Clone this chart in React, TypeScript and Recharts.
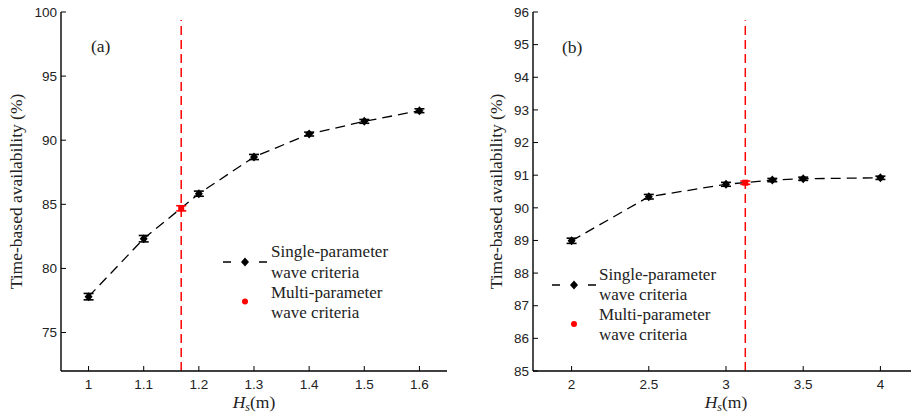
import React from "react";
import {
  ComposedChart,
  Line,
  Scatter,
  XAxis,
  YAxis,
  ErrorBar,
  ReferenceLine,
} from "recharts";

// ---- data: panel (a) ----
const hsA = [1, 1.1, 1.2, 1.3, 1.4, 1.5, 1.6];
const availA = [77.8, 82.32, 85.83, 88.69, 90.48, 91.47, 92.3];
const errA = [0.25, 0.25, 0.2, 0.2, 0.15, 0.15, 0.15];
const multiA = { x: 1.168, y: 84.69, err: 0.2 };
const xTicksA = [1, 1.1, 1.2, 1.3, 1.4, 1.5, 1.6];
const yTicksA = [75, 80, 85, 90, 95, 100];
const xDomainA: [number, number] = [0.95, 1.65];
const yDomainA: [number, number] = [72, 100];
const refTopA = 99.38;

// ---- data: panel (b) ----
const hsB = [2, 2.5, 3, 3.3, 3.5, 4];
const availB = [88.99, 90.34, 90.72, 90.85, 90.89, 90.92];
const errB = [0.08, 0.07, 0.06, 0.05, 0.05, 0.05];
const multiB = { x: 3.125, y: 90.77, err: 0.05 };
const xTicksB = [2, 2.5, 3, 3.5, 4];
const yTicksB = [85, 86, 87, 88, 89, 90, 91, 92, 93, 94, 95, 96];
const xDomainB: [number, number] = [1.75, 4.25];
const yDomainB: [number, number] = [85, 96];
const refTopB = 95.75;

const SERIF = "Liberation Serif";
const SANS = "Liberation Sans";
const TXT = "#222";
const serifStyle = { fontFamily: SERIF } as React.CSSProperties;
const sansStyle = { fontFamily: SANS } as React.CSSProperties;

const Diamond = (props: any) => {
  const { cx, cy, index } = props;
  if (cx == null || cy == null) return <g key={index} />;
  return (
    <path
      key={index}
      d={`M${cx},${cy - 4.5} L${cx + 4},${cy} L${cx},${cy + 4.5} L${cx - 4},${cy} Z`}
      fill="#000"
    />
  );
};

const RedSquare = (props: any) => {
  const { cx, cy } = props;
  return <rect x={cx - 3} y={cy - 3} width={6} height={6} fill="#ff0000" />;
};

const BottomTick = (props: any) => {
  const { x, y, payload } = props;
  return (
    <g>
      <line x1={x} x2={x} y1={y} y2={y - 5} stroke="#000" strokeWidth={1} />
      <text x={x} y={y + 18} textAnchor="middle" style={sansStyle} fontSize={13.5} fill={TXT}>
        {String(payload.value)}
      </text>
    </g>
  );
};
const TopTick = (props: any) => {
  const { x, y } = props;
  return <line x1={x} x2={x} y1={y} y2={y + 5} stroke="#000" strokeWidth={1} />;
};
const LeftTick = (props: any) => {
  const { x, y, payload } = props;
  return (
    <g>
      <line x1={x} x2={x + 5} y1={y} y2={y} stroke="#000" strokeWidth={1} />
      <text x={x - 4} y={y} dy="0.35em" textAnchor="end" style={sansStyle} fontSize={13.5} fill={TXT}>
        {String(payload.value)}
      </text>
    </g>
  );
};
const RightTick = (props: any) => {
  const { x, y } = props;
  return <line x1={x} x2={x - 5} y1={y} y2={y} stroke="#000" strokeWidth={1} />;
};

const xLabel = (props: any) => {
  const vb = props.viewBox;
  const cx = vb.x + vb.width / 2;
  const y = vb.y + 37;
  return (
    <text x={cx} y={y} textAnchor="middle" style={serifStyle} fontSize={17.5} fill={TXT}>
      <tspan fontStyle="italic">H</tspan>
      <tspan fontStyle="italic" fontSize={12} dy={3}>s</tspan>
      <tspan dy={-3}>(m)</tspan>
    </text>
  );
};

const makeYLabel = (dist: number) => (props: any) => {
  const vb = props.viewBox;
  const x = vb.x + vb.width - dist;
  const y = vb.y + vb.height / 2;
  return (
    <text
      x={x}
      y={y}
      transform={`rotate(-90 ${x} ${y})`}
      textAnchor="middle"
      dy="0.3em"
      style={serifStyle}
      fontSize={17.5}
      fill={TXT}
    >
      Time-based availability (%)
    </text>
  );
};

function Panel(props: {
  hs: number[];
  avail: number[];
  err: number[];
  multi: { x: number; y: number; err: number };
  xTicks: number[];
  yTicks: number[];
  xDomain: [number, number];
  yDomain: [number, number];
  refTop: number;
  width: number;
  yAxisWidth: number;
  labelDist: number;
}) {
  const data = props.hs.map((x, i) => ({ x, y: props.avail[i], err: props.err[i] }));
  const multiData = [props.multi];
  return (
    <ComposedChart
      width={props.width}
      height={415}
      margin={{ top: 12, right: 13, bottom: 0, left: 0 }}
      data={data}
    >
      <XAxis
        dataKey="x"
        type="number"
        domain={props.xDomain}
        ticks={props.xTicks}
        allowDataOverflow
        height={44}
        tickSize={0}
        tickMargin={0}
        tickLine={false}
        tick={<BottomTick />}
        axisLine={{ stroke: "#000", strokeWidth: 1.4 }}
        label={{ content: xLabel }}
        interval={0}
      />
      <XAxis
        xAxisId="t"
        orientation="top"
        dataKey="x"
        type="number"
        domain={props.xDomain}
        ticks={props.xTicks}
        allowDataOverflow
        height={0}
        tickSize={0}
        tickMargin={0}
        tickLine={false}
        tick={<TopTick />}
        axisLine={{ stroke: "#000", strokeWidth: 1.2 }}
        interval={0}
      />
      <YAxis
        type="number"
        domain={props.yDomain}
        ticks={props.yTicks}
        allowDataOverflow
        width={props.yAxisWidth}
        tickSize={0}
        tickMargin={0}
        tickLine={false}
        tick={<LeftTick />}
        axisLine={{ stroke: "#000", strokeWidth: 1.4 }}
        label={{ content: makeYLabel(props.labelDist) }}
        interval={0}
      />
      <YAxis
        yAxisId="r"
        orientation="right"
        type="number"
        domain={props.yDomain}
        ticks={props.yTicks}
        allowDataOverflow
        width={0}
        tickSize={0}
        tickMargin={0}
        tickLine={false}
        tick={<RightTick />}
        axisLine={{ stroke: "#000", strokeWidth: 1.2 }}
        interval={0}
      />
      <ReferenceLine
        segment={[
          { x: props.multi.x, y: props.yDomain[0] },
          { x: props.multi.x, y: props.refTop },
        ]}
        stroke="#ff0000"
        strokeWidth={1.5}
        strokeDasharray="9 5"
        ifOverflow="visible"
      />
      <Line
        dataKey="y"
        type="linear"
        stroke="#000"
        strokeWidth={1.3}
        strokeDasharray="10 6"
        dot={Diamond}
        activeDot={false}
        isAnimationActive={false}
      >
        <ErrorBar dataKey="err" width={5} stroke="#000" strokeWidth={1.6} direction="y" />
      </Line>
      <Scatter
        data={multiData}
        dataKey="y"
        fill="#ff0000"
        shape={RedSquare}
        isAnimationActive={false}
      >
        <ErrorBar dataKey="err" width={5} stroke="#ff0000" strokeWidth={1.6} direction="y" />
      </Scatter>
    </ComposedChart>
  );
}

function LegendBlock(props: { x: number; y: number; textX: number; baselines: number[]; dotY: number }) {
  const { x, y, textX, baselines, dotY } = props;
  const c = x + 22;
  return (
    <g>
      <line x1={x} x2={x + 44} y1={y} y2={y} stroke="#000" strokeWidth={1.3} strokeDasharray="8 28 8" />
      <path d={`M${c},${y - 4.5} L${c + 4},${y} L${c},${y + 4.5} L${c - 4},${y} Z`} fill="#000" />
      <circle cx={c} cy={dotY} r={3} fill="#ff0000" />
      <g style={serifStyle} fontSize={17} fill={TXT}>
        <text x={textX} y={baselines[0]}>Single-parameter</text>
        <text x={textX} y={baselines[1]}>wave criteria</text>
        <text x={textX} y={baselines[2]}>Multi-parameter</text>
        <text x={textX} y={baselines[3]}>wave criteria</text>
      </g>
    </g>
  );
}

export default function App() {
  return (
    <div
      style={{
        position: "absolute",
        left: 0,
        top: 0,
        width: 911,
        height: 415,
        overflow: "hidden",
        background: "#fff",
      }}
    >
      <div style={{ position: "absolute", left: 0, top: 0 }}>
        <Panel
          hs={hsA}
          avail={availA}
          err={errA}
          multi={multiA}
          xTicks={xTicksA}
          yTicks={yTicksA}
          xDomain={xDomainA}
          yDomain={yDomainA}
          refTop={refTopA}
          width={460}
          yAxisWidth={61}
          labelDist={44}
        />
      </div>
      <div style={{ position: "absolute", left: 460, top: 0 }}>
        <Panel
          hs={hsB}
          avail={availB}
          err={errB}
          multi={multiB}
          xTicks={xTicksB}
          yTicks={yTicksB}
          xDomain={xDomainB}
          yDomain={yDomainB}
          refTop={refTopB}
          width={472}
          yAxisWidth={73}
          labelDist={36}
        />
      </div>
      <svg
        width={911}
        height={415}
        style={{ position: "absolute", left: 0, top: 0, pointerEvents: "none" }}
      >
        <text x={91} y={52} style={serifStyle} fontSize={17.5} fill={TXT}>(a)</text>
        <text x={562} y={53} style={serifStyle} fontSize={17.5} fill={TXT}>(b)</text>
        <LegendBlock x={223} y={262} textX={271} baselines={[257, 278, 298, 318]} dotY={301.5} />
        <LegendBlock x={552} y={285} textX={599} baselines={[280, 300, 320, 340]} dotY={324} />
      </svg>
    </div>
  );
}
